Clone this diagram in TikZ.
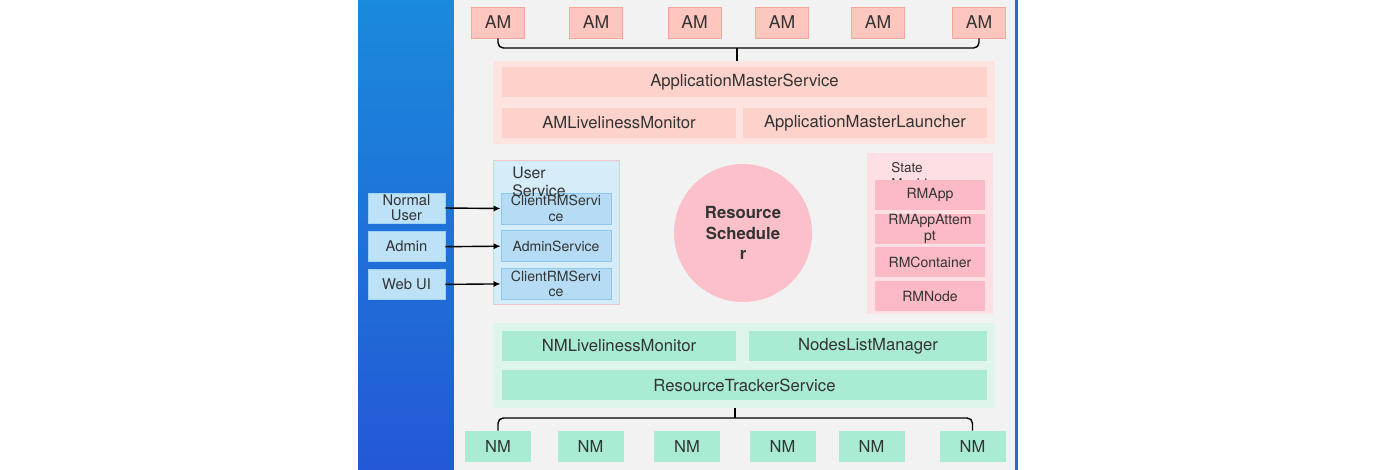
\documentclass[tikz,border=0pt]{standalone}
\usepackage{fontspec}
\setmainfont{TeX Gyre Heros}
\usepackage{xcolor}
\usetikzlibrary{positioning, arrows.meta, calc}

\definecolor{textgray}{HTML}{333333}
\definecolor{panelgray}{HTML}{F2F2F2}
\definecolor{bluetop}{HTML}{1A8ADB}
\definecolor{bluebottom}{HTML}{2458D6}
\definecolor{blueline}{HTML}{1E6FD0}
\definecolor{amfill}{HTML}{FDC7BF}
\definecolor{amline}{HTML}{F5A79D}
\definecolor{amgroupfill}{HTML}{FDE4E0}
\definecolor{amsvcfill}{HTML}{FDD2CB}
\definecolor{clientfill}{HTML}{BDE2F8}
\definecolor{clientline}{HTML}{9CD2F3}
\definecolor{usergroupfill}{HTML}{D6EDF9}
\definecolor{usergroupline}{HTML}{F2C4CB}
\definecolor{usvcfill}{HTML}{B5DCF4}
\definecolor{usvcline}{HTML}{8DC9EE}
\definecolor{schedfill}{HTML}{FBC0C9}
\definecolor{stategroupfill}{HTML}{FDDFE4}
\definecolor{rmfill}{HTML}{FBBAC5}
\definecolor{nmgroupfill}{HTML}{DDF5EB}
\definecolor{nmfill}{HTML}{AAEBD4}

\begin{document}
\begin{tikzpicture}[
  x=0.02cm, y=-0.02cm,
  every node/.style={text=textgray},
  amnode/.style={draw=amline, fill=amfill, minimum width=1.06cm, minimum height=0.62cm, inner sep=0pt, font=\fontsize{10}{12}\selectfont},
  nmnode/.style={fill=nmfill, minimum width=1.32cm, minimum height=0.62cm, inner sep=0pt, font=\fontsize{9.4}{11}\selectfont},
  amsvc/.style={fill=amsvcfill, minimum height=0.6cm, inner sep=0pt, font=\fontsize{9.5}{11}\selectfont},
  nmsvc/.style={fill=nmfill, minimum height=0.6cm, inner sep=0pt, font=\fontsize{9.5}{11}\selectfont},
  client/.style={draw=clientline, fill=clientfill, minimum width=1.54cm, minimum height=0.6cm, inner sep=0pt, align=center, font=\fontsize{8.4}{8.6}\selectfont},
  usvc/.style={draw=usvcline, fill=usvcfill, minimum width=2.2cm, minimum height=0.62cm, inner sep=0pt, align=center, font=\fontsize{8}{9}\selectfont},
  rmbox/.style={fill=rmfill, minimum width=2.2cm, minimum height=0.6cm, inner sep=0pt, align=center, font=\fontsize{8}{9}\selectfont},
  grouptitle/.style={anchor=north west, inner sep=0pt, align=left},
  arrow/.style={-{Latex[length=4pt,width=3.5pt]}, line width=0.8pt},
  brace/.style={rounded corners=3pt, line width=0.8pt},
]
  \useasboundingbox (0,0) rectangle (1400,470);

  % Background
  \shade[top color=bluetop, bottom color=bluebottom] (358,0) rectangle (454,470);
  \fill[panelgray] (454,0) rectangle (1015,470);
  \fill[blueline] (1015,0) rectangle (1018,470);

  % AM row
  \foreach \i/\x in {1/498, 2/596, 3/694.5, 4/782, 5/878, 6/979} {
    \node (am\i) [amnode] at (\x,22.5) {AM};
  }

  % AM services
  \node (amgroup) [fill=amgroupfill, minimum width=10.04cm, minimum height=1.66cm, inner sep=0pt] at (744,102.5) {};
  \node (amservice) [amsvc, minimum width=9.7cm] at (744.5,82) {ApplicationMasterService};
  \node (amlive) [amsvc, minimum width=4.68cm] at (619,123) {AMLivelinessMonitor};
  \node (amlaunch) [amsvc, minimum width=4.88cm] at (865,123) {ApplicationMasterLauncher};

  \coordinate (amtick) at (737,48);
  \draw [brace] (am1.south) |- (amtick) -| (am6.south);
  \draw [brace] (amtick) -- (amtick |- amgroup.north);

  % Clients
  \node (client1) [client] at (406.5,208) {Normal\\User};
  \node (client2) [client, below=0.16cm of client1] {Admin};
  \node (client3) [client, below=0.14cm of client2] {Web UI};

  % User service
  \node (usergroup) [draw=usergroupline, fill=usergroupfill, minimum width=2.52cm, minimum height=2.88cm, inner sep=0pt] at (556,232) {};
  \node (usvc1) [usvc] at (556,208.5) {ClientRMServi\\ce};
  \node (usvc2) [usvc, below=0.12cm of usvc1] {AdminService};
  \node (usvc3) [usvc, below=0.12cm of usvc2] {ClientRMServi\\ce};
  \node (usertitle) [grouptitle, font=\fontsize{9}{10.2}\selectfont] at (512,167) {User\\Service};

  \foreach \i in {1,2,3} {
    \draw [arrow] (client\i.east) -- (usvc\i.west);
  }

  % Scheduler
  \node (scheduler) [circle, fill=schedfill, minimum size=2.76cm, inner sep=0pt, align=center, font=\fontsize{9.5}{11.5}\selectfont\bfseries] at (743,233) {Resource\\Schedule\\r};

  % State machine
  \node (stategroup) [fill=stategroupfill, minimum width=2.52cm, minimum height=3.22cm, inner sep=0pt] at (930,233.5) {};
  \node (statetitle) [grouptitle, font=\fontsize{7.7}{9.2}\selectfont] at (891,162) {State\\Machine};
  \node (rm1) [rmbox] at (930,195) {RMApp};
  \node (rm2) [rmbox, below=0.06cm of rm1] {RMAppAttem\\pt};
  \node (rm3) [rmbox, below=0.06cm of rm2] {RMContainer};
  \node (rm4) [rmbox, below=0.06cm of rm3] {RMNode};

  % NM services
  \node (nmgroup) [fill=nmgroupfill, minimum width=10.04cm, minimum height=1.7cm, inner sep=0pt] at (744,365.5) {};
  \node (nmlive) [nmsvc, minimum width=4.68cm] at (619,346) {NMLivelinessMonitor};
  \node (nodelist) [nmsvc, minimum width=4.76cm] at (868,346) {NodesListManager};
  \node (tracker) [nmsvc, minimum width=9.7cm] at (744.5,385) {ResourceTrackerService};

  % NM row
  \foreach \i/\x in {1/498, 2/590.5, 3/687, 4/782.5, 5/871.5, 6/972.5} {
    \node (nm\i) [nmnode] at (\x,446.5) {NM};
  }

  \coordinate (nmtick) at (735,418);
  \draw [brace] (nm1.north) |- (nmtick) -| (nm6.north);
  \draw [brace] (nmtick) -- (nmtick |- nmgroup.south);

\end{tikzpicture}
\end{document}
